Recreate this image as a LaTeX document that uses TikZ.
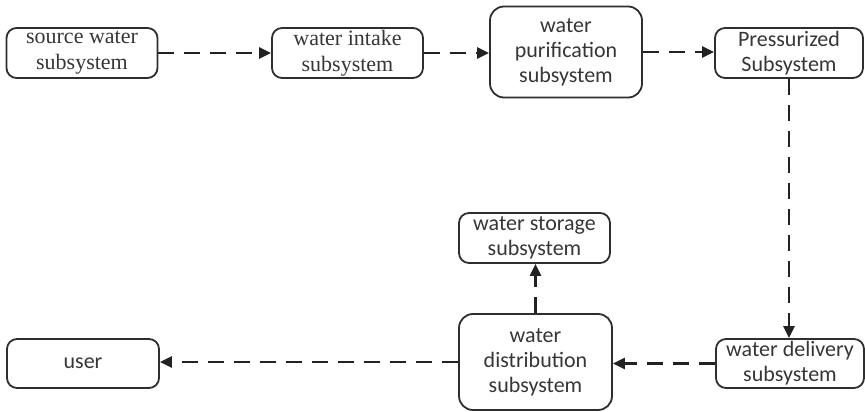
\documentclass[tikz,border=0pt]{standalone}
\usepackage{fontspec}
\setmainfont{Liberation Serif}
\newfontfamily\boxsans{Carlito}
\usetikzlibrary{arrows.meta}
\definecolor{boxline}{HTML}{2E2E2E}
\definecolor{arrowline}{HTML}{222222}
\definecolor{textgray}{HTML}{363636}
\begin{document}
\begin{tikzpicture}[x=1pt,y=-1pt,
  box/.style={draw=boxline, line width=1.8pt, rounded corners=10pt, align=center,
    text=textgray, inner sep=0pt, font=\boxsans\fontsize{22}{25}\selectfont},
  serifbox/.style={box, font=\rmfamily\fontsize{22}{26}\selectfont},
  flow/.style={draw=arrowline, line width=2.4pt, dash pattern=on 16pt off 10pt,
    -{Triangle[length=12pt,width=11pt]}}]
\useasboundingbox (0,0) rectangle (865,412);

% subsystem boxes
\node[serifbox, minimum width=151pt, minimum height=50pt] (src) at (82,53)
  {source water\\subsystem};
\node[serifbox, minimum width=151pt, minimum height=50pt] (intake) at (347.5,53)
  {water intake\\subsystem};
\node[box, rounded corners=14pt, minimum width=152pt, minimum height=91pt] (purif) at (566,52)
  {water\\purification\\subsystem};
\node[box, minimum width=148pt, minimum height=50pt] (press) at (789,53)
  {Pressurized\\Subsystem};
\node[box, minimum width=148pt, minimum height=49pt] (deliv) at (790,363.5)
  {water delivery\\subsystem};
\node[box, rounded corners=14pt, minimum width=153pt, minimum height=96pt] (distr) at (535.5,362)
  {water\\distribution\\subsystem};
\node[box, minimum width=151pt, minimum height=50pt] (store) at (534.5,238)
  {water storage\\subsystem};
\node[box, minimum width=152pt, minimum height=49pt] (user) at (83,363.5)
  {user};

% dashed flows between subsystems
\draw[flow] (src.east) -- (src.east -| intake.west);
\draw[flow] (intake.east) -- (intake.east -| purif.west);
\draw[flow] (purif.east) -- (purif.east -| press.west);
\draw[flow] (press.south) -- (press.south |- deliv.north);
\draw[flow] (deliv.west) -- (deliv.west -| distr.east);
\draw[flow] (distr.west) -- (distr.west -| user.east);
\draw[flow] (distr.north) -- (distr.north |- store.south);
\end{tikzpicture}
\end{document}
